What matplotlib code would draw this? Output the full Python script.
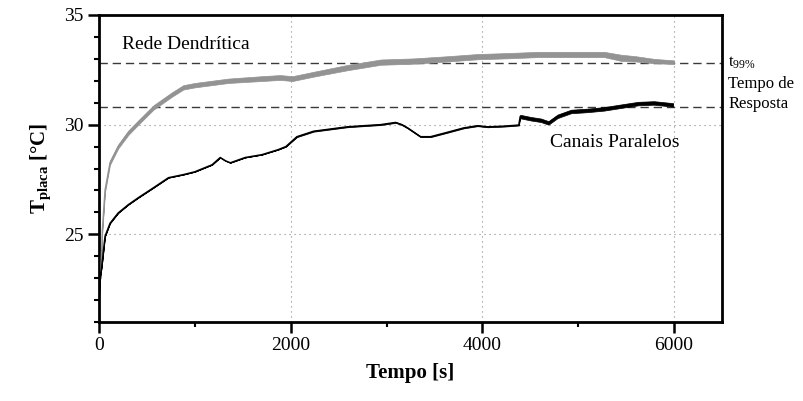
import matplotlib
matplotlib.use("Agg")
import matplotlib.pyplot as plt
from matplotlib.ticker import MultipleLocator

plt.rcParams['font.family'] = ['Liberation Serif', 'DejaVu Serif']
plt.rcParams['mathtext.fontset'] = 'custom'
plt.rcParams['mathtext.rm'] = 'Liberation Serif'
plt.rcParams['mathtext.it'] = 'Liberation Serif:italic'
plt.rcParams['mathtext.bf'] = 'Liberation Serif:bold'

# Rede Dendritica (grey, noisy band)
gray_t = [15, 20, 35, 63, 115, 200, 306, 411, 568, 760, 880, 1000, 1350, 1700, 1890,
          2020, 2240, 2590, 2940, 3285, 3635, 3950, 4300, 4575, 4900, 5270, 5445,
          5600, 5790, 6000]
gray_mid = [23.0, 23.1, 25.2, 27.0, 28.26, 29.0, 29.63, 30.1, 30.78, 31.37, 31.7,
            31.8, 32.0, 32.1, 32.15, 32.1, 32.3, 32.6, 32.85, 32.9, 33.0, 33.1, 33.15,
            33.2, 33.2, 33.2, 33.05, 33.0, 32.9, 32.85]
gray_spread = [0.03, 0.05, 0.07, 0.08, 0.09, 0.09, 0.1, 0.1, 0.1, 0.1, 0.1, 0.1,
               0.1, 0.11, 0.11, 0.11, 0.11, 0.12, 0.12, 0.12, 0.12, 0.12, 0.12, 0.12,
               0.12, 0.12, 0.14, 0.12, 0.1, 0.08]

# Canais Paralelos (black)
black_t = [0, 10, 28, 63, 115, 200, 306, 411, 568, 725, 880, 1000, 1180, 1265, 1320,
           1370, 1525, 1700, 1870, 1950, 2065, 2240, 2415, 2590, 2760, 2940, 3095,
           3160, 3220, 3355, 3460, 3635, 3805, 3950, 4055, 4225, 4380, 4395, 4505,
           4610, 4690, 4785, 4925, 5100, 5270, 5445, 5625, 5790, 5990]
black_mid = [22.0, 23.0, 23.5, 24.9, 25.5, 25.97, 26.35, 26.67, 27.12, 27.58, 27.72,
             27.85, 28.17, 28.5, 28.35, 28.26, 28.5, 28.63, 28.86, 29.0, 29.45, 29.7,
             29.8, 29.9, 29.95, 30.0, 30.1, 30.0, 29.85, 29.45, 29.45, 29.65, 29.85,
             29.95, 29.9, 29.93, 29.98, 30.37, 30.27, 30.2, 30.08, 30.38, 30.6, 30.65,
             30.72, 30.84, 30.96, 30.99, 30.9]
black_spread = [0.0, 0.0, 0.0, 0.0, 0.0, 0.0, 0.0, 0.0, 0.0, 0.0, 0.0, 0.0,
                0.0, 0.0, 0.0, 0.0, 0.0, 0.0, 0.0, 0.01, 0.02, 0.02, 0.02, 0.02,
                0.02, 0.02, 0.02, 0.02, 0.02, 0.02, 0.02, 0.02, 0.02, 0.02, 0.02, 0.02,
                0.02, 0.08, 0.08, 0.08, 0.08, 0.08, 0.08, 0.08, 0.08, 0.08, 0.08, 0.08, 0.08]

# response-time reference levels
t99_levels = [32.82, 30.8]

fig = plt.figure(figsize=(8.04, 4.01), dpi=100)
ax = fig.add_axes([0.1231, 0.197, 0.7749, 0.7656])

ax.fill_between(gray_t, [m - s for m, s in zip(gray_mid, gray_spread)],
                [m + s for m, s in zip(gray_mid, gray_spread)],
                color='#939393', lw=0.5, zorder=3)
ax.plot(gray_t, gray_mid, color='#939393', lw=1.0, zorder=3)

ax.fill_between(black_t, [m - s for m, s in zip(black_mid, black_spread)],
                [m + s for m, s in zip(black_mid, black_spread)],
                color='black', lw=0.5, zorder=4)
ax.plot(black_t, black_mid, color='black', lw=1.1, zorder=4)

for lvl in t99_levels:
    ax.axhline(lvl, color='#3a3a3a', lw=1.0, dashes=(6, 3.5), zorder=2)

# dotted grid
for gx in [2000, 4000, 6000]:
    ax.axvline(gx, color='#888888', lw=0.8, ls=(0, (1, 3.5)), zorder=1)
for gy in [25, 30]:
    ax.axhline(gy, color='#888888', lw=0.8, ls=(0, (1, 3.5)), zorder=1)

ax.set_xlim(0, 6500)
ax.set_ylim(21, 35)
ax.set_xticks([0, 2000, 4000, 6000])
ax.set_yticks([25, 30, 35])
ax.xaxis.set_minor_locator(MultipleLocator(1000))
ax.yaxis.set_minor_locator(MultipleLocator(1))
ax.tick_params(which='major', direction='out', length=8, width=1.8, labelsize=14, pad=3)
ax.tick_params(which='minor', direction='out', length=3.5, width=1.5)
ax.tick_params(top=False, right=False, which='both')
for sp in ax.spines.values():
    sp.set_linewidth(2.0)

ax.set_xlabel('Tempo [s]', fontsize=15, fontweight='bold', labelpad=6)
ax.set_ylabel(r'$\mathbf{T_{placa}}$ [°C]', fontsize=15, fontweight='bold', labelpad=8)

ax.text(240, 33.65, 'Rede Dendrítica', fontsize=14, va='center', ha='left')
ax.text(4704, 29.18, 'Canais Paralelos', fontsize=14, va='center', ha='left')

tr = ax.get_yaxis_transform()
ax.text(1.01, 32.8, r't$_{\mathrm{99\%}}$', transform=tr, fontsize=12, va='center', ha='left')
ax.text(1.01, 31.87, 'Tempo de', transform=tr, fontsize=12, va='center', ha='left')
ax.text(1.01, 30.96, 'Resposta', transform=tr, fontsize=12, va='center', ha='left')

fig.savefig('out.png', dpi=100)
